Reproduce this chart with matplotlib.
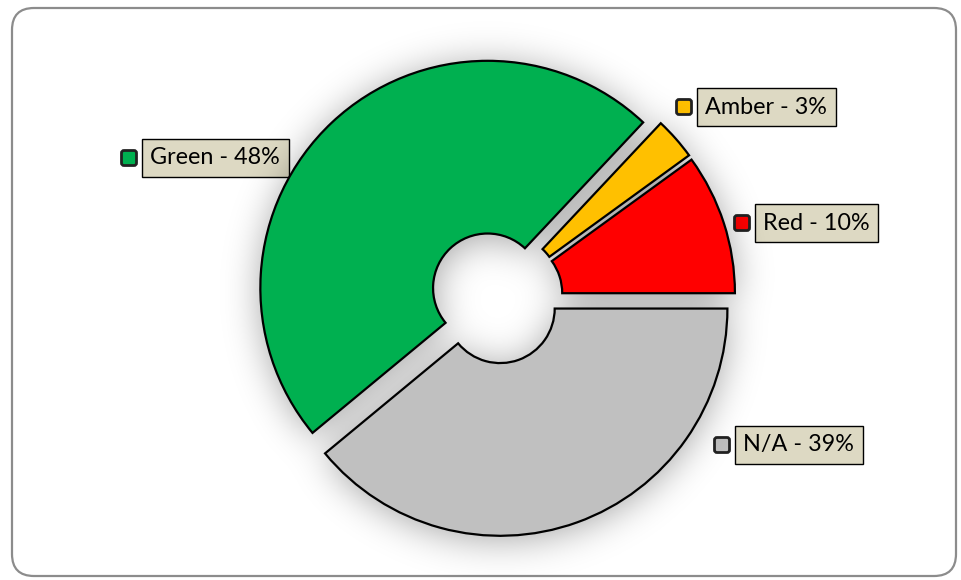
import numpy as np
import matplotlib
matplotlib.use("Agg")
import matplotlib.pyplot as plt
from matplotlib.patches import FancyBboxPatch

# ---- data ----
categories = ["Red", "Amber", "Green", "N/A"]
values = [10, 3, 48, 39]
colors = ["#ff0000", "#ffc000", "#00b050", "#c0c0c0"]
label_texts = [f"{c} - {v}%" for c, v in zip(categories, values)]

W, H = 962, 580
fig = plt.figure(figsize=(W / 100, H / 100), dpi=100)
fig.patch.set_facecolor("white")

# background axes in pixel coords for frame and labels
bg = fig.add_axes([0, 0, 1, 1])
bg.set_xlim(0, W)
bg.set_ylim(H, 0)
bg.axis("off")
frame = FancyBboxPatch((12, 8), 944, 568, boxstyle="round,pad=0,rounding_size=22",
                       fc="white", ec="#8c8c8c", lw=1.6, zorder=0)
bg.add_patch(frame)

# ---- pie axes ----
R_px_x, R_px_y = 224, 218.5
cx_px, cy_px = 496, 297
xl, yl = 1.5, 1.3
axw = 2 * xl * R_px_x / W
axh = 2 * yl * R_px_y / H
left = (cx_px - xl * R_px_x) / W
bottom = 1 - (cy_px + yl * R_px_y) / H
ax = fig.add_axes([left, bottom, axw, axh])
ax.set_xlim(-xl, xl)
ax.set_ylim(-yl, yl)
ax.set_aspect("auto")
ax.axis("off")

explode_frac = 0.054
width = 0.76
explode = [explode_frac] * len(values)

# shadow from the wedge geometry
npx_x = int(2 * xl * R_px_x)
npx_y = int(2 * yl * R_px_y)
xs = np.linspace(-xl, xl, npx_x)
ys = np.linspace(yl, -yl, npx_y)
X, Y = np.meshgrid(xs, ys)
mask = np.zeros_like(X)
tot = float(sum(values))
a0 = 0.0
for v in values:
    a1 = a0 + 360 * v / tot
    mid = np.deg2rad((a0 + a1) / 2)
    ox, oy = explode_frac * np.cos(mid), explode_frac * np.sin(mid)
    dx, dy = X - ox, Y - oy
    r = np.hypot(dx, dy)
    th = np.rad2deg(np.arctan2(dy, dx)) % 360
    m = (r <= 1) & (r >= 1 - width) & (th >= a0) & (th <= a1)
    mask[m] = 1
    a0 = a1
sig = 18.0
def gk(n):
    i = np.arange(n)
    K = np.exp(-0.5 * ((i[:, None] - i[None, :]) / sig) ** 2)
    return K / K.sum(axis=1, keepdims=True)
Ky, Kx = gk(npx_y), gk(npx_x)
shift = 4
maskS = np.roll(mask, shift, axis=0)
blur = Ky @ maskS @ Kx.T
rgba = np.zeros((npx_y, npx_x, 4))
rgba[..., 3] = np.clip(0.36 * blur, 0, 1)
ax.imshow(rgba, extent=(-xl, xl, -yl, yl), aspect="auto", zorder=1, interpolation="bilinear")

wedges, _ = ax.pie(values, colors=colors, startangle=0, counterclock=True,
                   explode=explode, radius=1,
                   wedgeprops=dict(width=width, edgecolor="black", linewidth=1.6))
for w in wedges:
    w.set_zorder(2)
    w.set_joinstyle("miter")

# ---- labels ----
fs = 16.8
pad = 0.36
fs_px = fs * 100 / 72
box_left = {"Red": 755, "Amber": 697, "Green": 142, "N/A": 735}
box_yc = {"Red": 223, "Amber": 107, "Green": 158, "N/A": 445}
for c, col, t in zip(categories, colors, label_texts):
    x = box_left[c] + pad * fs_px
    y = box_yc[c]
    bg.text(x, y, t, ha="left", va="center", fontsize=fs, family=["Lato", "DejaVu Sans"],
            color="black", zorder=5,
            bbox=dict(boxstyle=f"square,pad={pad}", fc="#ddd9c3", ec="black", lw=1.0))
    mx = box_left[c] - 13
    bg.add_patch(FancyBboxPatch((mx - 7.5, y - 7.5), 15, 15,
                                boxstyle="round,pad=0,rounding_size=2.5",
                                fc=col, ec="#222222", lw=2.0, zorder=5))

fig.savefig("out.png", dpi=100, facecolor="white")
